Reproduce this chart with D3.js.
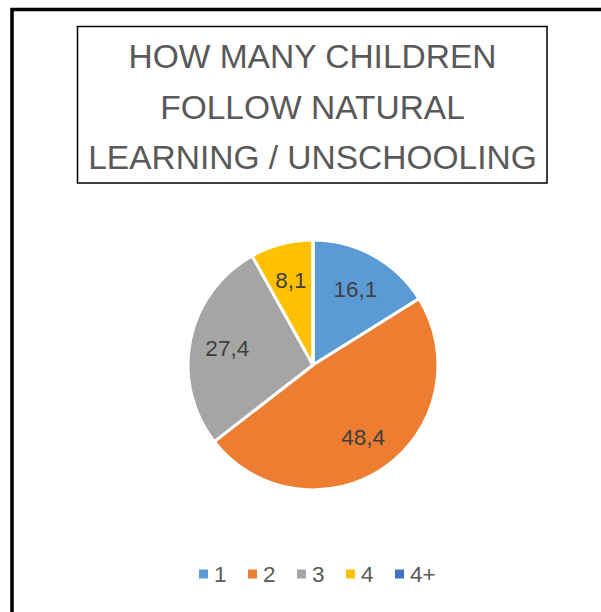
<!DOCTYPE html>
<html>
<head>
<meta charset="utf-8">
<script src="https://cdn.jsdelivr.net/npm/d3@7"></script>
<style>
    body { margin: 0; background: #fff; }
    text { font-family: "Liberation Sans", Arial, sans-serif; }
</style>
</head>
<body>
<div id="chart"></div>
<script>
// data
var categories = ['1', '2', '3', '4', '4+'];
var values = [16.1, 48.4, 27.4, 8.1, 0];
var colors = ['#5B9BD5', '#ED7D31', '#A5A5A5', '#FFC000', '#4472C4'];
var titleLines = ['HOW MANY CHILDREN', 'FOLLOW NATURAL', 'LEARNING / UNSCHOOLING'];

function buildChart(containerId) {
    var width = 601;
    var height = 612;
    var cx = 313, cy = 365, radius = 125;

    var svg = d3.select(containerId)
        .append('svg')
        .attr('width', width)
        .attr('height', height);

    // outer frame (runs off right and bottom)
    svg.append('rect')
        .attr('x', 12)
        .attr('y', 9.5)
        .attr('width', 640)
        .attr('height', 640)
        .style('fill', 'none')
        .style('stroke', '#000')
        .style('stroke-width', 3.5);

    // title box
    svg.append('rect')
        .attr('x', 77.5)
        .attr('y', 26.5)
        .attr('width', 469.5)
        .attr('height', 156.5)
        .style('fill', 'none')
        .style('stroke', '#000')
        .style('stroke-width', 1.5);

    svg.append('g')
        .selectAll('text')
        .data(titleLines)
        .enter()
        .append('text')
        .attr('x', 312.5)
        .attr('y', (d, i) => 68 + i * 50.5)
        .attr('text-anchor', 'middle')
        .style('font-size', '33.5px')
        .style('fill', '#595959')
        .text(d => d);

    // pie
    var data = categories.map((c, i) => ({ cat: c, value: values[i], color: colors[i] }));

    var pie = d3.pie()
        .sort(null)
        .value(d => d.value);

    var arc = d3.arc()
        .innerRadius(0)
        .outerRadius(radius);

    var labelArc = d3.arc()
        .innerRadius(radius * 0.7)
        .outerRadius(radius * 0.7);

    var plot = svg.append('g')
        .attr('transform', 'translate(' + cx + ',' + cy + ')');

    var slices = pie(data);

    plot.selectAll('path')
        .data(slices)
        .enter()
        .append('path')
        .attr('d', arc)
        .style('fill', d => d.data.color)
        .style('stroke', '#fff')
        .style('stroke-width', 3)
        .style('stroke-linejoin', 'round');

    plot.selectAll('text')
        .data(slices.filter(d => d.data.value > 0))
        .enter()
        .append('text')
        .attr('transform', d => 'translate(' + labelArc.centroid(d) + ')')
        .attr('text-anchor', 'middle')
        .attr('dy', '0.36em')
        .style('font-size', '22.5px')
        .style('fill', '#404040')
        .text(d => d.data.value.toFixed(1).replace('.', ','));

    // legend
    var legend = svg.append('g')
        .attr('transform', 'translate(199,574)');

    var item = legend.selectAll('g')
        .data(data)
        .enter()
        .append('g')
        .attr('transform', (d, i) => 'translate(' + (i * 49) + ',0)');

    item.append('rect')
        .attr('x', 0)
        .attr('y', -4.5)
        .attr('width', 9)
        .attr('height', 9)
        .style('fill', d => d.color);

    item.append('text')
        .attr('x', 15)
        .attr('y', 0)
        .attr('dy', '0.36em')
        .style('font-size', '22.5px')
        .style('fill', '#595959')
        .text(d => d.cat);
}

buildChart('#chart');
</script>
</body>
</html>
